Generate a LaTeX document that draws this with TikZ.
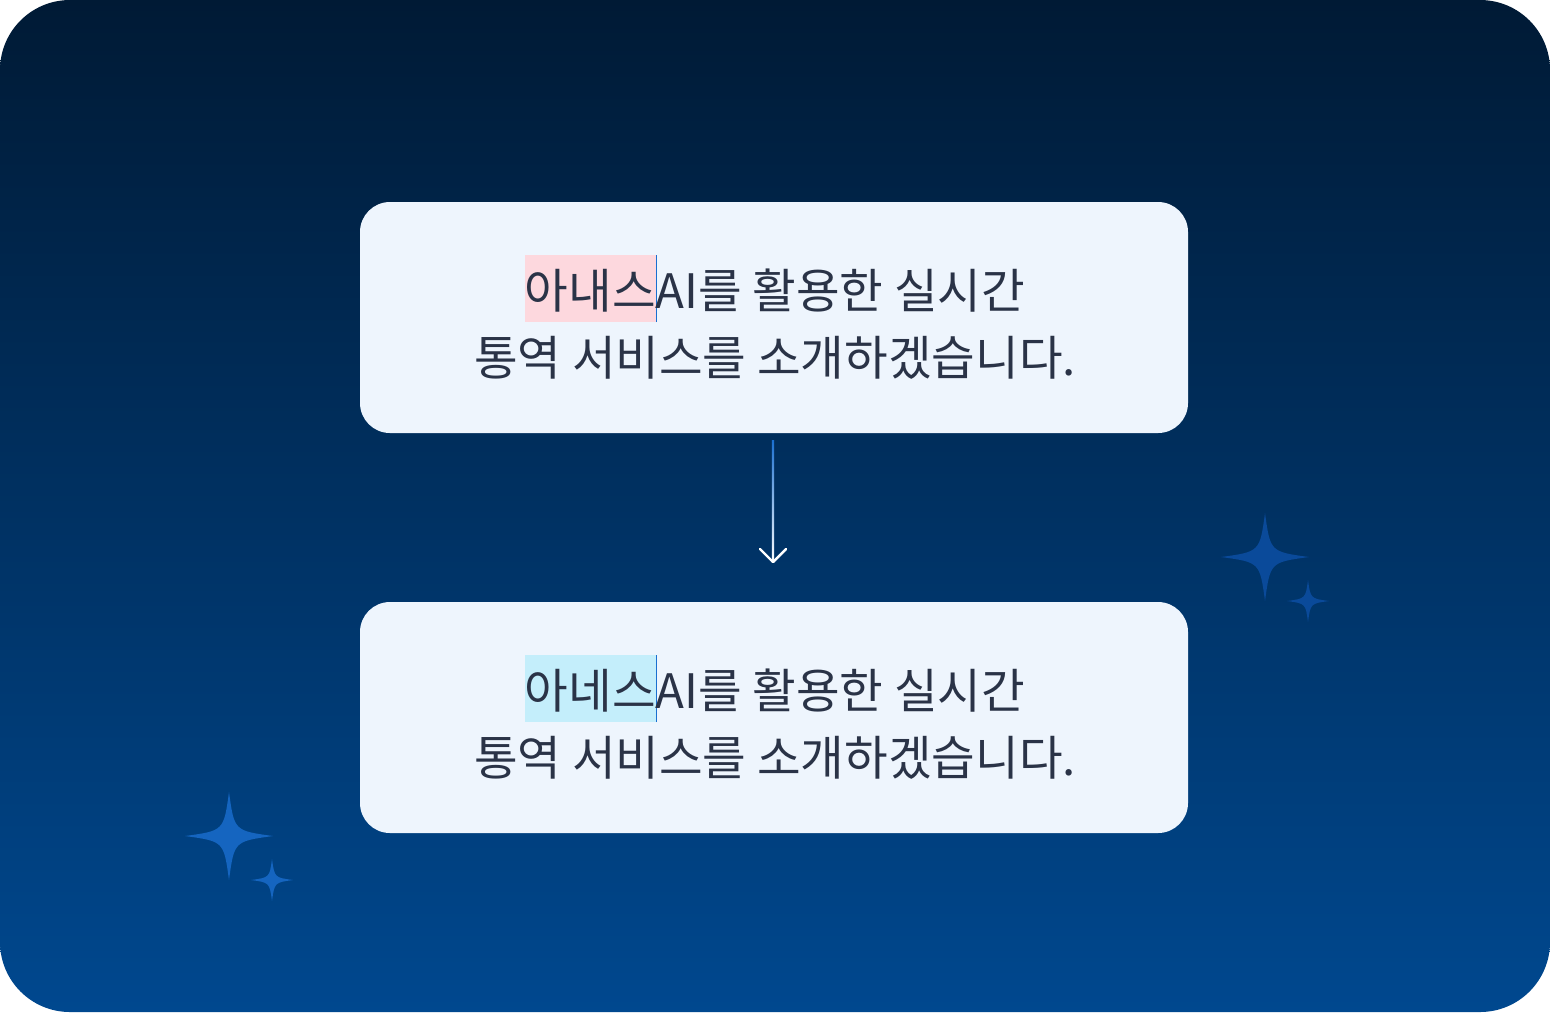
\documentclass[tikz,border=0pt]{standalone}
\usepackage{fontspec}
\newfontfamily\kr{Noto Sans CJK KR}[BoldFont={* Bold}]
\definecolor{bgtop}{HTML}{001A35}
\definecolor{bgbot}{HTML}{00488F}
\definecolor{boxc}{HTML}{EEF5FD}
\definecolor{txt}{HTML}{2A3347}
\definecolor{hlpink}{HTML}{FDD8DE}
\definecolor{hlblue}{HTML}{C4EEFB}
\definecolor{cur}{HTML}{1A6FD0}
\definecolor{starA}{HTML}{0A4A9A}
\definecolor{starB}{HTML}{1565C0}
\newcommand{\myhl}[2]{\setbox0\hbox{#2}\rlap{\color{#1}\rule[-0.28cm]{\wd0}{1.34cm}}\box0\rlap{\color{cur}\rule[-0.28cm]{0.8pt}{1.34cm}}}
\tikzset{
  card/.style={fill=boxc, rounded corners=0.6cm},
  line/.style={font=\kr\fontsize{27}{30}\selectfont, text=txt, inner sep=0pt, anchor=base},
}
\newcommand{\mystar}[4]{\fill[#4] (#1,#2-#3) .. controls (#1+0.12*#3,#2-0.12*#3) .. (#1+#3,#2) .. controls (#1+0.12*#3,#2+0.12*#3) .. (#1,#2+#3) .. controls (#1-0.12*#3,#2+0.12*#3) .. (#1-#3,#2) .. controls (#1-0.12*#3,#2-0.12*#3) .. cycle;}
\begin{document}
\begin{tikzpicture}[x=0.02cm,y=-0.02cm]
\useasboundingbox (0,0) rectangle (1550,1012);
\fill[white] (0,0) rectangle (1550,1012);
\shade[top color=bgtop, bottom color=bgbot, rounded corners=1.4cm] (0,0) rectangle (1550,1012);
\fill[card] (360,202) rectangle (1188,433);
\fill[card] (360,602) rectangle (1188,833);
\node[line] (t1) at (775,308) {\myhl{hlpink}{아내스}AI를 활용한 실시간};
\node[line] (t2) at (775,375) {통역 서비스를 소개하겠습니다.};
\node[line] (t3) at (775,708) {\myhl{hlblue}{아네스}AI를 활용한 실시간};
\node[line] (t4) at (775,775) {통역 서비스를 소개하겠습니다.};
\coordinate (a) at (773,440);
\coordinate (b) at (773,562);
\shade[top color=cur, bottom color=white] ([xshift=-0.6pt]a) rectangle ([xshift=0.6pt]b);
\draw[white, line width=1.4pt, line cap=round, line join=round] ([xshift=-13*0.02cm, yshift=13*0.02cm]b) -- (b) -- ([xshift=13*0.02cm, yshift=13*0.02cm]b);
\mystar{1265}{557}{44}{starA}
\mystar{1308}{601}{21}{starA}
\mystar{229}{836}{44}{starB}
\mystar{272}{880}{21}{starB}
\end{tikzpicture}
\end{document}
